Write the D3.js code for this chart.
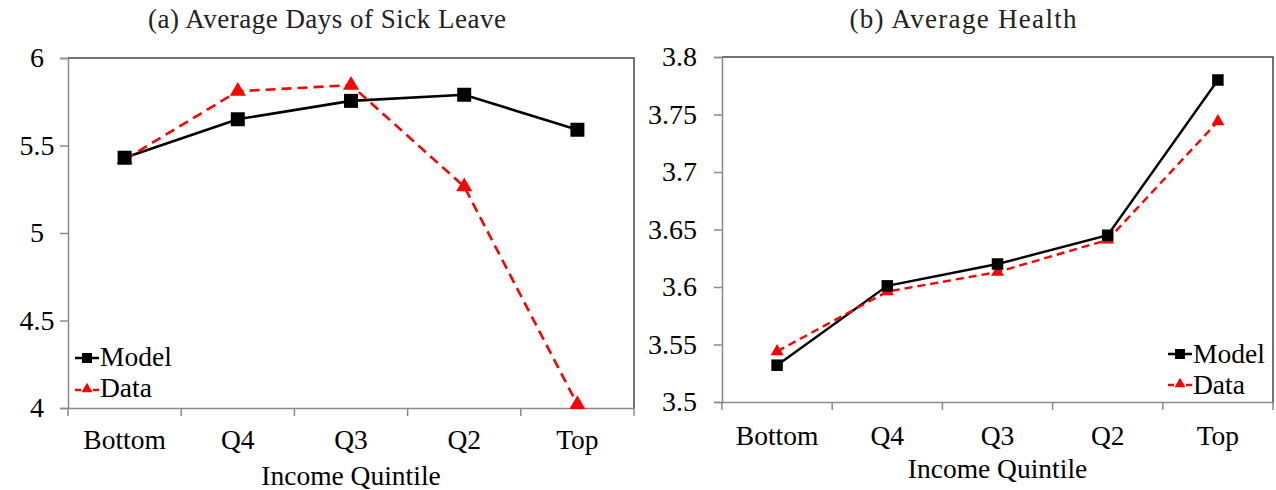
<!DOCTYPE html>
<html>
<head>
<meta charset="utf-8">
<script src="https://cdn.jsdelivr.net/npm/d3@7"></script>
<style>
  html, body { margin: 0; padding: 0; background: #fff; }
  svg { display: block; }
</style>
</head>
<body>
<svg id="chart" width="1276" height="490"></svg>
<script>
// ---- data ----
const categories = ["Bottom", "Q4", "Q3", "Q2", "Top"];
const sickModel = [5.43, 5.65, 5.755, 5.79, 5.59];
const sickData  = [5.42, 5.81, 5.845, 5.265, 4.02];
const healthModel = [3.532, 3.601, 3.62, 3.645, 3.78];
const healthData  = [3.544, 3.596, 3.613, 3.641, 3.744];
const sickTicks = [4, 4.5, 5, 5.5, 6];
const healthTicks = [3.5, 3.55, 3.6, 3.65, 3.7, 3.75, 3.8];
const seriesNames = ["Model", "Data"];
const titles = ["(a)  Average Days of Sick Leave", "(b)  Average Health"];
const xTitle = "Income Quintile";

const FONT = "'Liberation Serif', 'Times New Roman', Tinos, 'DejaVu Serif', serif";
const svg = d3.select("#chart").attr("font-family", FONT);

const panels = [
  { title: titles[0], model: sickModel, data: sickData, ticks: sickTicks, domain: [4, 6],
    x0: 68, x1: 634, y0: 58, y1: 408,
    tickLabelX: 37, tickAnchor: "middle",
    titleX: 327, titleLen: 358, catY: 449, xTitleY: 485,
    mSize: 14, tSize: 16, lw: 2.6, dash: "10,6",
    legX: 75, legY: [358, 390], legTextY: [366, 397] },
  { title: titles[1], model: healthModel, data: healthData, ticks: healthTicks, domain: [3.5, 3.8],
    x0: 722, x1: 1273, y0: 57, y1: 402,
    tickLabelX: 697, tickAnchor: "end",
    titleX: 963, titleLen: 227, catY: 445, xTitleY: 478,
    mSize: 11.5, tSize: 13, lw: 2.4, dash: "8,5",
    legX: 1168, legY: [354, 385], legTextY: [363, 394] }
];

function txt(sel) {
  return sel.append("text").attr("font-family", FONT).style("font-family", FONT).attr("fill", "#000");
}

panels.forEach(p => {
  const x = d3.scaleBand().domain(categories).range([p.x0, p.x1]);
  const y = d3.scaleLinear().domain(p.domain).range([p.y1, p.y0]);
  const g = svg.append("g");

  // plot border (top, right)
  g.append("path")
    .attr("d", `M${p.x0},${p.y0}H${p.x1}V${p.y1}`)
    .attr("fill", "none").attr("stroke", "#444").attr("stroke-width", 1.5);

  // y axis
  const yAxis = d3.axisLeft(y).tickValues(p.ticks).tickSize(8).tickFormat("");
  const ya = g.append("g").attr("transform", `translate(${p.x0},0)`).call(yAxis);
  ya.select(".domain").attr("stroke", "#8a8a8a").attr("stroke-width", 1.5);
  ya.selectAll(".tick line").attr("stroke", "#8a8a8a").attr("stroke-width", 1.5);
  p.ticks.forEach(d => {
    txt(g).attr("x", p.tickLabelX).attr("y", y(d)).attr("dy", "0.33em")
      .attr("text-anchor", p.tickAnchor).attr("font-size", 28)
      .text(d3.format("")(d));
  });

  // x axis
  const xa = g.append("g").attr("transform", `translate(0,${p.y1})`)
    .call(d3.axisBottom(x).tickSize(0).tickFormat(""));
  xa.select(".domain").attr("stroke", "#8a8a8a").attr("stroke-width", 1.5);
  const bounds = categories.map(c => x(c)).concat([x(categories[categories.length - 1]) + x.bandwidth()]);
  g.selectAll(".xtick").data(bounds).enter().append("line")
    .attr("x1", d => d).attr("x2", d => d).attr("y1", p.y1).attr("y2", p.y1 + 8)
    .attr("stroke", "#8a8a8a").attr("stroke-width", 1.5);
  categories.forEach(c => {
    txt(g).attr("x", x(c) + x.bandwidth() / 2).attr("y", p.catY)
      .attr("text-anchor", "middle").attr("font-size", 27.5).text(c);
  });
  txt(g).attr("x", (p.x0 + p.x1) / 2).attr("y", p.xTitleY)
    .attr("text-anchor", "middle").attr("font-size", 27.5).text(xTitle);

  // title
  txt(g).attr("x", p.titleX).attr("y", 28).attr("text-anchor", "middle")
    .attr("font-size", 27).attr("textLength", p.titleLen).attr("lengthAdjust", "spacing")
    .attr("fill", "#222").text(p.title);

  const cx = (d, i) => x(categories[i]) + x.bandwidth() / 2;
  const line = d3.line().x(cx).y(d => y(d));

  // model series
  g.append("path").datum(p.model).attr("d", line)
    .attr("fill", "none").attr("stroke", "#000").attr("stroke-width", p.lw);
  // data series
  g.append("path").datum(p.data).attr("d", line)
    .attr("fill", "none").attr("stroke", "#ff0000").attr("stroke-width", p.lw)
    .attr("stroke-dasharray", p.dash);

  const tri = d3.symbol().type(d3.symbolTriangle);
  const triPath = s => tri.size(s * s * 0.433)();
  g.selectAll(".tri").data(p.data).enter().append("path")
    .attr("d", triPath(p.tSize))
    .attr("transform", (d, i) => `translate(${cx(d, i)},${y(d)})`)
    .attr("fill", "#ff0000");
  g.selectAll(".sq").data(p.model).enter().append("rect")
    .attr("x", (d, i) => cx(d, i) - p.mSize / 2).attr("y", d => y(d) - p.mSize / 2)
    .attr("width", p.mSize).attr("height", p.mSize).attr("fill", "#000");

  // legend
  const lg = g.append("g");
  lg.append("line").attr("x1", p.legX).attr("x2", p.legX + 24)
    .attr("y1", p.legY[0]).attr("y2", p.legY[0]).attr("stroke", "#000").attr("stroke-width", 2.5);
  lg.append("rect").attr("x", p.legX + 12 - 5).attr("y", p.legY[0] - 5)
    .attr("width", 10).attr("height", 10).attr("fill", "#000");
  txt(lg).attr("x", p.legX + 25).attr("y", p.legTextY[0]).attr("font-size", 27.5).text(seriesNames[0]);
  lg.append("line").attr("x1", p.legX).attr("x2", p.legX + 24)
    .attr("y1", p.legY[1]).attr("y2", p.legY[1]).attr("stroke", "#ff0000").attr("stroke-width", 2.5)
    .attr("stroke-dasharray", "6,3");
  lg.append("path").attr("d", triPath(11))
    .attr("transform", `translate(${p.legX + 12},${p.legY[1] - 1})`).attr("fill", "#ff0000");
  txt(lg).attr("x", p.legX + 25).attr("y", p.legTextY[1]).attr("font-size", 27.5).text(seriesNames[1]);
});
</script>
</body>
</html>
